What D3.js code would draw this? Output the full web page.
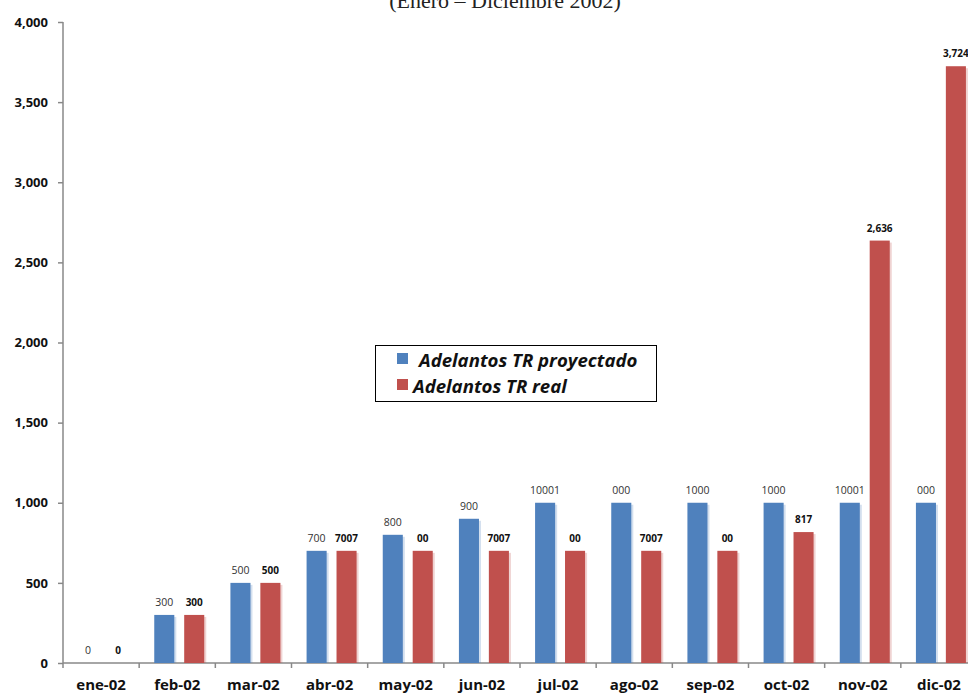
<!DOCTYPE html>
<html>
<head>
<meta charset="utf-8">
<script src="https://cdn.jsdelivr.net/npm/d3@7"></script>
<style>
  body { margin: 0; background: #fff; }
  #chart { width: 968px; height: 693px; }
</style>
</head>
<body>
<div id="chart"></div>
<script>
// Chart data
const months = ["ene-02", "feb-02", "mar-02", "abr-02", "may-02", "jun-02",
                "jul-02", "ago-02", "sep-02", "oct-02", "nov-02", "dic-02"];
const proyectado = [0, 300, 500, 700, 800, 900, 1000, 1000, 1000, 1000, 1000, 1000];
const real = [0, 300, 500, 700, 700, 700, 700, 700, 700, 817, 2636, 3724];
// labels as printed on the original
const proyectadoLabels = ["0", "300", "500", "700", "800", "900", "10001", "000", "1000", "1000", "10001", "000"];
const realLabels = ["0", "300", "500", "7007", "00", "7007", "00", "7007", "00", "817", "2,636", "3,724"];
const yTicks = [0, 500, 1000, 1500, 2000, 2500, 3000, 3500, 4000];
const seriesNames = ["Adelantos TR proyectado", "Adelantos TR real"];
const colors = ["#4f81bd", "#c0504d"];

const svg = d3.select("#chart").append("svg")
  .attr("width", 968)
  .attr("height", 693);

const x = d3.scaleBand().domain(months).range([63, 977]);
const y = d3.scaleLinear().domain([0, 4000]).range([663, 22]);
const inner = d3.scaleBand().domain([0, 1]).range([0, 50]).paddingInner(0.33);
const offset = (x.bandwidth() - 50) / 2 + 2;

// Title (cut off at the top, as in the source)
svg.append("text")
  .attr("x", 505)
  .attr("y", 8)
  .attr("text-anchor", "middle")
  .style("font-family", "Liberation Serif, serif")
  .style("font-size", "22px")
  .style("fill", "#222")
  .text("(Enero – Diciembre 2002)");

// Y axis
const yAxis = svg.append("g")
  .attr("transform", "translate(63,0)")
  .call(d3.axisLeft(y).tickValues(yTicks).tickSize(5).tickPadding(10).tickFormat(d3.format(",")));
yAxis.selectAll("path, line").attr("stroke", "#888").attr("stroke-width", 1.5);
yAxis.select(".domain").attr("d", "M0,22V663");
yAxis.selectAll("text")
  .style("font-family", "Open Sans, sans-serif")
  .style("font-weight", "bold")
  .style("font-size", "13px")
  .style("fill", "#111");

// X axis line and boundary ticks
svg.append("line")
  .attr("x1", 63).attr("x2", 977)
  .attr("y1", y(0)).attr("y2", y(0))
  .attr("stroke", "#888").attr("stroke-width", 1.5);
svg.selectAll(".xtick")
  .data(months)
  .enter().append("line")
  .attr("x1", d => x(d)).attr("x2", d => x(d))
  .attr("y1", y(0)).attr("y2", y(0) + 5)
  .attr("stroke", "#888").attr("stroke-width", 1.5);
svg.selectAll(".xlabel")
  .data(months)
  .enter().append("text")
  .attr("x", d => x(d) + x.bandwidth() / 2)
  .attr("y", 690)
  .attr("text-anchor", "middle")
  .style("font-family", "Open Sans, sans-serif")
  .style("font-weight", "bold")
  .style("font-size", "15px")
  .style("fill", "#111")
  .text(d => d);

// Bars
[proyectado, real].forEach((vals, s) => {
  const bx = (d, i) => x(months[i]) + offset + inner(s);
  // soft halo on the right side
  svg.selectAll(".halo" + s)
    .data(vals)
    .enter().append("rect")
    .attr("x", (d, i) => bx(d, i) + 2)
    .attr("y", d => y(d) + 2)
    .attr("width", inner.bandwidth())
    .attr("height", d => y(0) - y(d) - 2 > 0 ? y(0) - y(d) - 2 : 0)
    .attr("fill", colors[s])
    .attr("opacity", 0.25);
  svg.selectAll(".bar" + s)
    .data(vals)
    .enter().append("rect")
    .attr("x", bx)
    .attr("y", d => y(d))
    .attr("width", inner.bandwidth())
    .attr("height", d => y(0) - y(d))
    .attr("fill", colors[s]);
});

// Value labels
const labelSets = [proyectadoLabels, realLabels];
[proyectado, real].forEach((vals, s) => {
  svg.selectAll(".lab" + s)
    .data(vals)
    .enter().append("text")
    .attr("x", (d, i) => x(months[i]) + offset + inner(s) + inner.bandwidth() / 2)
    .attr("y", d => y(d) - 9)
    .attr("text-anchor", "middle")
    .style("font-family", "Open Sans, sans-serif")
    .style("font-size", s === 1 ? "10px" : "10.5px")
    .style("font-weight", s === 1 ? "bold" : "normal")
    .style("fill", s === 1 ? "#111" : "#333")
    .text((d, i) => labelSets[s][i]);
});

// Legend
const legend = svg.append("g");
legend.append("rect")
  .attr("x", 375.5).attr("y", 345.5)
  .attr("width", 281).attr("height", 56)
  .attr("fill", "#fff").attr("stroke", "#000").attr("stroke-width", 1);
seriesNames.forEach((name, i) => {
  legend.append("rect")
    .attr("x", 397).attr("y", 353 + i * 26)
    .attr("width", 11).attr("height", 11)
    .attr("fill", colors[i]);
  legend.append("text")
    .attr("x", i === 0 ? 419 : 413)
    .attr("y", 367 + i * 26)
    .style("font-family", "Open Sans, sans-serif")
    .style("font-weight", "bold")
    .style("font-style", "italic")
    .style("font-size", "18.6px")
    .style("fill", "#111")
    .text(name);
});
</script>
</body>
</html>
